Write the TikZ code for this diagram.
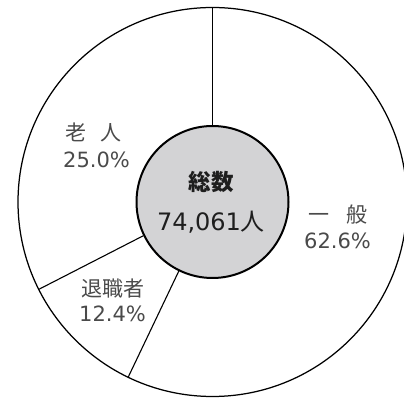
\documentclass[tikz,border=0pt]{standalone}
\usepackage{fontspec}
\setmainfont{DejaVu Sans}
\newfontfamily\cjk{Noto Sans CJK JP}
\definecolor{labelgray}{HTML}{4A4A4A}
\definecolor{hubgray}{HTML}{D3D3D5}
\definecolor{ink}{HTML}{1E1E1E}
\tikzset{
  rim/.style={draw=black, line width=1.25pt},
  spoke/.style={draw=black, line width=1.1pt},
  hub/.style={circle, draw=black, line width=2pt, fill=hubgray, minimum size=152pt, inner sep=0pt},
  lbl/.style={text=labelgray, inner sep=0pt, font=\fontsize{21}{24}\selectfont},
  ctr/.style={text=ink, inner sep=0pt},
}
\begin{document}
\begin{tikzpicture}[x=1pt,y=1pt]
\useasboundingbox (0,0) rectangle (404,398);
\coordinate (C) at (212.5,196);
\begin{scope}
\clip (0,0) rectangle (404,398);
\draw[rim] (C) circle (194.5);
\end{scope}
\coordinate (oTop) at ([shift={(90:194.5)}]C);
\coordinate (oA) at ([shift={(244.3:194.5)}]C);
\coordinate (oB) at ([shift={(206.7:194.5)}]C);
\node[hub] (hub) at (C) {};
\draw[spoke] (hub.90) -- (oTop);
\draw[spoke] (hub.244.3) -- (oA);
\draw[spoke] (hub.206.7) -- (oB);
\node[ctr, font=\fontsize{22.5}{26}\selectfont\cjk\bfseries] (total) at (211,216) {総数};
\node[ctr, font=\fontsize{24}{28}\selectfont] (count) at (211,176) {74,061{\cjk 人}};
\node[lbl] (rojinName) at (93.5,265.5) {{\cjk 老}\hspace{14pt}{\cjk 人}};
\node[lbl] (rojinPct) at (96.5,238.5) {25.0\%};
\node[lbl] (ippanName) at (338,183) {{\cjk 一}\hspace{17pt}{\cjk 般}};
\node[lbl] (ippanPct) at (337.5,157) {62.6\%};
\node[lbl] (taiName) at (112.5,109) {\cjk 退職者};
\node[lbl] (taiPct) at (112.5,84) {12.4\%};
\end{tikzpicture}
\end{document}
